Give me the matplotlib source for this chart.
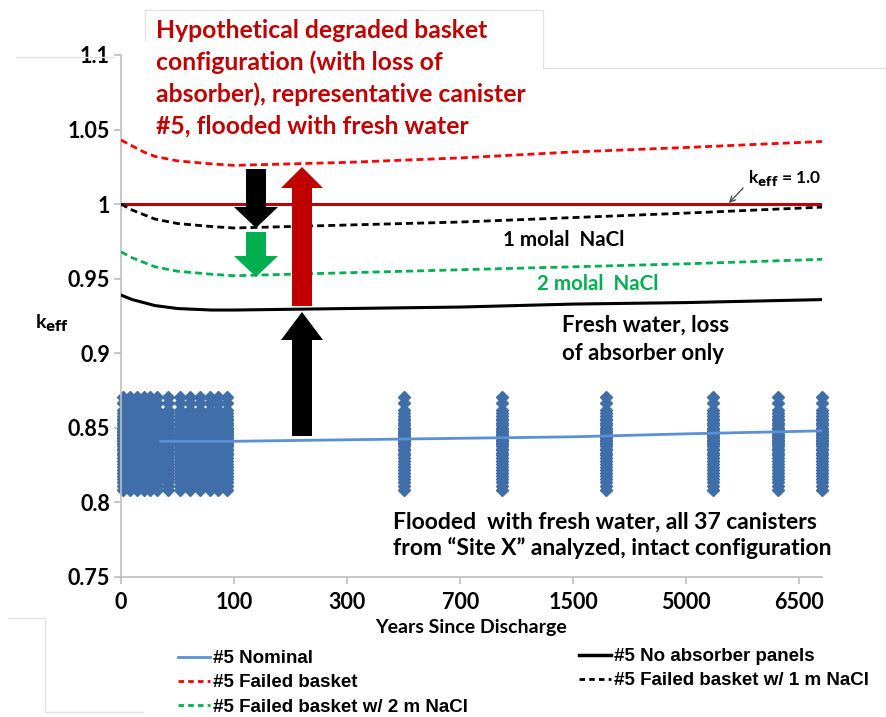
import matplotlib
matplotlib.use("Agg")
import matplotlib.pyplot as plt
from matplotlib.lines import Line2D
from matplotlib.patches import Polygon

# eixo x categorico (posicao), rotulos de anos
tick_pos = [0, 10, 20, 30, 40, 50, 60]
tick_labels = ["0", "100", "300", "700", "1500", "5000", "6500"]

# curvas do canister #5
curve_x = [0, 1, 2, 3, 5, 8, 10, 20, 30, 40, 50, 62]
failed_basket = [1.043, 1.039, 1.035, 1.032, 1.029, 1.027, 1.026, 1.028, 1.031, 1.035, 1.038, 1.042]
failed_1m = [1.000, 0.996, 0.993, 0.990, 0.987, 0.985, 0.984, 0.986, 0.988, 0.991, 0.994, 0.998]
failed_2m = [0.968, 0.964, 0.961, 0.958, 0.955, 0.953, 0.952, 0.954, 0.956, 0.958, 0.960, 0.963]
no_absorber = [0.939, 0.936, 0.934, 0.932, 0.930, 0.929, 0.929, 0.930, 0.931, 0.933, 0.934, 0.936]

nominal_x = [3.5, 10, 20, 30, 40, 50, 62]
nominal = [0.841, 0.841, 0.842, 0.843, 0.844, 0.846, 0.848]

# 37 canisters do "Site X" (intacto), colunas de tempo
site_cols = [0.2, 0.8, 1.4, 2.0, 2.6, 3.2, 4.2, 5.2, 6.1, 7.0, 7.9, 8.6, 9.4,
             25.0, 33.7, 42.9, 52.4, 58.1, 62.0]
site_keff = [0.871, 0.867, 0.862, 0.860, 0.858, 0.856, 0.855, 0.853, 0.852, 0.850,
             0.849, 0.848, 0.847, 0.846, 0.845, 0.844, 0.843, 0.842, 0.841, 0.840,
             0.839, 0.838, 0.836, 0.835, 0.833, 0.832, 0.830, 0.828, 0.826, 0.824,
             0.822, 0.820, 0.818, 0.816, 0.814, 0.811, 0.808]

W, H = 887, 717
fonte = ["Lato", "DejaVu Sans"]
fonte_leg = ["Liberation Sans", "DejaVu Sans"]
plt.rcParams["font.family"] = fonte


def fx(x):
    return x / W


def fy(y):
    return 1 - y / H


fig = plt.figure(figsize=(W / 100, H / 100), dpi=100)
ax = fig.add_axes([fx(121), fy(577), fx(822) - fx(121), fy(55) - fy(577)])

# pontos dos canisters
for c in site_cols:
    ax.plot([c] * len(site_keff), site_keff, linestyle="none", marker="D",
            markersize=6.5, color="#3F6EA8", clip_on=False, zorder=2)

ax.plot(nominal_x, nominal, color="#5B8FD6", lw=2, zorder=3)
ax.plot([curve_x[0], curve_x[-1]], [1.0, 1.0], color="#C00000", lw=2.2, zorder=3)
ax.plot(curve_x, failed_basket, color="#FF0000", lw=2, dashes=(2.5, 1.5), zorder=3)
ax.plot(curve_x, failed_1m, color="black", lw=2, dashes=(2.5, 1.5), zorder=3)
ax.plot(curve_x, failed_2m, color="#00B050", lw=2, dashes=(2.5, 1.5), zorder=3)
ax.plot(curve_x, no_absorber, color="black", lw=2.2, zorder=3)

ax.set_xlim(0, 62)
ax.set_ylim(0.75, 1.1)
ax.set_yticks([0.75, 0.8, 0.85, 0.9, 0.95, 1.0, 1.05, 1.1])
ax.set_yticklabels(["0.75", "0.8", "0.85", "0.9", "0.95", "1", "1.05", "1.1"])
ax.set_xticks(tick_pos)
ax.set_xticklabels(tick_labels)
for s in ["top", "right"]:
    ax.spines[s].set_visible(False)
for s in ["left", "bottom"]:
    ax.spines[s].set_color("#BFBFBF")
    ax.spines[s].set_linewidth(1.2)
ax.tick_params(axis="both", colors="#BFBFBF", length=5, width=1.2, labelcolor="black",
               labelsize=15.5, pad=3)
ax.tick_params(axis="x", pad=6)
for lab in ax.get_xticklabels() + ax.get_yticklabels():
    lab.set_fontweight("bold")
ax.set_xlabel("Years Since Discharge", fontsize=14, fontweight="bold", labelpad=4)
fig.text(fx(35), fy(323), r"k$_{\mathbf{eff}}$", fontsize=14, fontweight="bold",
         ha="left", va="center")


# setas em pixels
def seta(x, y_base, y_tip, shaft=20, head=42, head_len=22, cor="black"):
    sgn = 1 if y_tip < y_base else -1
    y_neck = y_tip + sgn * head_len
    pts = [(x - shaft / 2, y_base), (x - shaft / 2, y_neck), (x - head / 2, y_neck),
           (x, y_tip), (x + head / 2, y_neck), (x + shaft / 2, y_neck),
           (x + shaft / 2, y_base)]
    pts = [(fx(a), fy(b)) for a, b in pts]
    fig.patches.append(Polygon(pts, closed=True, facecolor=cor, edgecolor="none",
                               transform=fig.transFigure, zorder=5))


seta(256, 169, 228, head=44, head_len=21)
seta(256, 232, 277, head=44, head_len=21, cor="#00B050")
seta(302, 306, 167, head=42, head_len=21, cor="#C00000")
seta(302, 436, 312, head=42, head_len=28)

# textos
titulo = ["Hypothetical degraded basket", "configuration (with loss of",
          "absorber), representative canister", "#5, flooded with fresh water"]
for i, t in enumerate(titulo):
    fig.text(fx(156), fy(30 + 32 * i), t, color="#C00000", fontsize=17.8,
             fontweight="bold", ha="left", va="center")

fig.text(fx(503), fy(240), "1 molal  NaCl", fontsize=14.8, fontweight="bold", va="center")
fig.text(fx(537), fy(284), "2 molal  NaCl", fontsize=14.8, fontweight="bold",
         color="#00B050", va="center")
fig.text(fx(562), fy(325), "Fresh water, loss", fontsize=16, fontweight="bold", va="center")
fig.text(fx(562), fy(353), "of absorber only", fontsize=16, fontweight="bold", va="center")
fig.text(fx(393), fy(522), "Flooded  with fresh water, all 37 canisters",
         fontsize=16.5, fontweight="bold", va="center")
fig.text(fx(393), fy(548), "from \u201cSite X\u201d analyzed, intact configuration",
         fontsize=16.5, fontweight="bold", va="center")

fig.text(fx(748), fy(178), r"k$_{\mathbf{eff}}$ = 1.0", fontsize=12.5, fontweight="bold",
         va="center")
ax.annotate("", xy=(fx(727), fy(205)), xycoords="figure fraction",
            xytext=(fx(745), fy(186)), textcoords="figure fraction",
            arrowprops=dict(arrowstyle="->", color="#404040", lw=0.9))

# bordas claras do slide
borda = "#E3E3E3"
fig.add_artist(Line2D([fx(145), fx(145), fx(543), fx(543), fx(887)],
                      [fy(40), fy(10), fy(10), fy(68), fy(68)], color=borda, lw=1))
fig.add_artist(Line2D([fx(16), fx(114)], [fy(57), fy(57)], color=borda, lw=1))
fig.add_artist(Line2D([fx(8), fx(45), fx(45), fx(143)],
                      [fy(618), fy(618), fy(712), fy(712)], color=borda, lw=1))

# legendas
h1 = [Line2D([], [], color="#5B8FD6", lw=2),
      Line2D([], [], color="#FF0000", lw=2, dashes=(2, 1.5)),
      Line2D([], [], color="#00B050", lw=2, dashes=(2, 1.5))]
l1 = ["#5 Nominal", "#5 Failed basket", "#5 Failed basket w/ 2 m NaCl"]
h2 = [Line2D([], [], color="black", lw=2.5),
      Line2D([], [], color="black", lw=2, dashes=(2, 1.5))]
l2 = ["#5 No absorber panels", "#5 Failed basket w/ 1 m NaCl"]
props = dict(family=fonte_leg, weight="bold", size=13.5)
for h, l, x0, y0 in [(h1, l1, 178, 650), (h2, l2, 579, 648)]:
    leg = fig.legend(h, l, loc="upper left", bbox_to_anchor=(fx(x0), fy(y0)),
                     frameon=False, prop=props, handlelength=1.7, handletextpad=0.15,
                     labelspacing=0.38, borderpad=0, borderaxespad=0)

fig.savefig("out.png", dpi=100)
